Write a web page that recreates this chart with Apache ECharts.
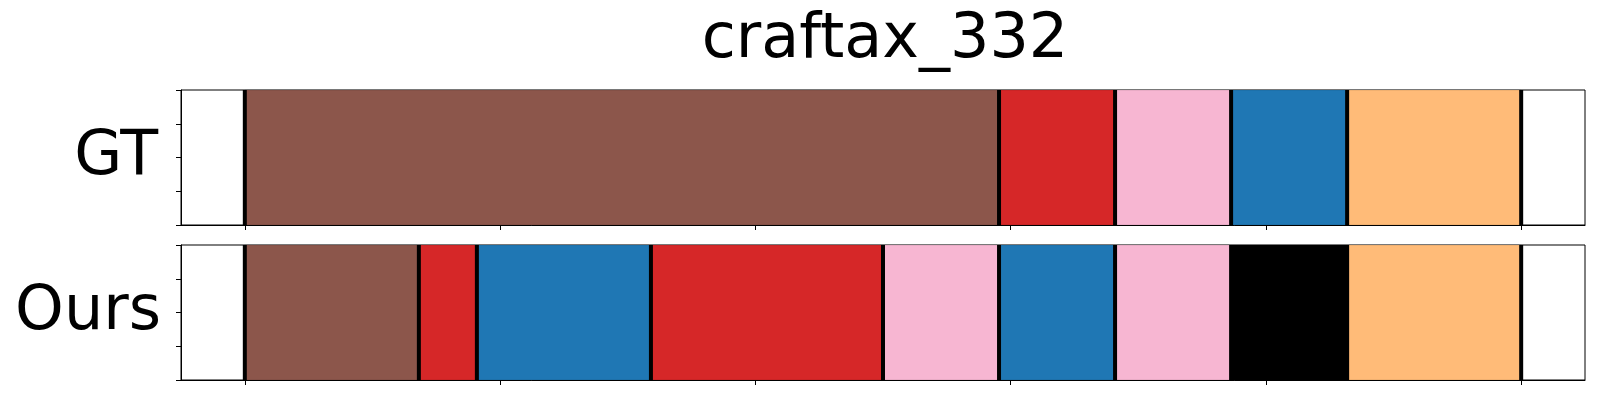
<!DOCTYPE html>
<html>
<head>
<meta charset="utf-8">
<script src="https://cdn.jsdelivr.net/npm/echarts@6/dist/echarts.min.js"></script>
<style>
html,body{margin:0;padding:0;background:#fff;}
#chart{width:1600px;height:400px;}
</style>
</head>
<body>
<div id="chart"></div>
<script>
// ---- data ----
const titleText = 'craftax_332';
const rowNames = ['GT', 'Ours'];
// segment lengths (steps) and their classes, per row
const gtLengths = [13, 2, 2, 2, 3];
const gtClasses = ['brown', 'red', 'pink', 'blue', 'orange'];
const oursLengths = [3, 1, 3, 4, 2, 2, 2, 2, 3];
const oursClasses = ['brown', 'red', 'blue', 'red', 'pink', 'blue', 'pink', 'black', 'orange'];
// tick positions as fractions of the whole sequence
const xTickFractions = [0, 0.2, 0.4, 0.6, 0.8, 1.0];
const yTickValues = [0, 0.25, 0.5, 0.75, 1];

const palette = {
  brown: '#8c564b', red: '#d62728', pink: '#f7b6d2',
  blue: '#1f77b4', orange: '#ffbb78', black: '#000000'
};

function buildSegments(lengths, classes) {
  const segs = [];
  const bounds = [0];
  let s = 0;
  lengths.forEach((len, i) => {
    segs.push([s, s + len, classes[i]]);
    s += len;
    bounds.push(s);
  });
  return { segs, bounds, total: s };
}
const rows = [buildSegments(gtLengths, gtClasses), buildSegments(oursLengths, oursClasses)];
const total = rows[0].total;
const margin = total * 0.05;

const grids = [
  { left: 181, width: 1404, top: 90, height: 135 },
  { left: 181, width: 1404, top: 245, height: 135 }
];
const nameGaps = [23, 20];

const option = {
  animation: false,
  backgroundColor: '#fff',
  title: {
    text: titleText,
    left: 880,
    top: 5,
    textAlign: 'center',
    textStyle: { fontFamily: 'DejaVu Sans', fontSize: 62, fontWeight: 'normal', color: '#000' }
  },
  grid: grids.map(g => Object.assign({ show: true, borderColor: '#000', borderWidth: 1, backgroundColor: 'transparent' }, g)),
  xAxis: grids.map((g, i) => ({
    type: 'value', gridIndex: i, min: -margin, max: total + margin,
    axisLine: { show: true, onZero: false, lineStyle: { color: '#000', width: 1 } },
    axisTick: { show: true, inside: false, length: 5, lineStyle: { color: '#000', width: 1 }, customValues: xTickFractions.map(f => f * total) },
    axisLabel: { show: false },
    splitLine: { show: false }
  })),
  yAxis: grids.map((g, i) => ({
    type: 'value', gridIndex: i, min: 0, max: 1,
    name: rowNames[i], nameLocation: 'middle', nameRotate: 0, nameGap: nameGaps[i],
    nameTextStyle: { fontFamily: 'DejaVu Sans', fontSize: 62, color: '#000', align: 'right', verticalAlign: 'middle', padding: [0, 0, 10, 0] },
    axisLine: { show: true, onZero: false, lineStyle: { color: '#000', width: 1 } },
    axisTick: { show: true, inside: false, length: 5, lineStyle: { color: '#000', width: 1 }, customValues: yTickValues },
    axisLabel: { show: false },
    splitLine: { show: false }
  })),
  series: []
};

rows.forEach((row, i) => {
  option.series.push({
    type: 'custom', xAxisIndex: i, yAxisIndex: i,
    data: row.segs,
    renderItem: function (params, api) {
      const p0 = api.coord([api.value(0), 1]);
      const p1 = api.coord([api.value(1), 0]);
      const col = palette[row.segs[params.dataIndex][2]];
      return {
        type: 'rect',
        shape: { x: p0[0], y: p0[1], width: p1[0] - p0[0], height: p1[1] - p0[1] },
        style: { fill: col, stroke: 'rgba(0,0,0,0.12)', lineWidth: 1 }
      };
    }
  });
  option.series.push({
    type: 'custom', xAxisIndex: i, yAxisIndex: i,
    data: row.bounds.map(b => [b]),
    renderItem: function (params, api) {
      const p0 = api.coord([api.value(0), 1]);
      const p1 = api.coord([api.value(0), 0]);
      return {
        type: 'rect',
        shape: { x: p0[0] - 2, y: p0[1], width: 4, height: p1[1] - p0[1] },
        style: { fill: '#000' }
      };
    },
    z: 5
  });
});

const chart = echarts.init(document.getElementById('chart'), null, { renderer: 'canvas' });
chart.setOption(option);
</script>
</body>
</html>
